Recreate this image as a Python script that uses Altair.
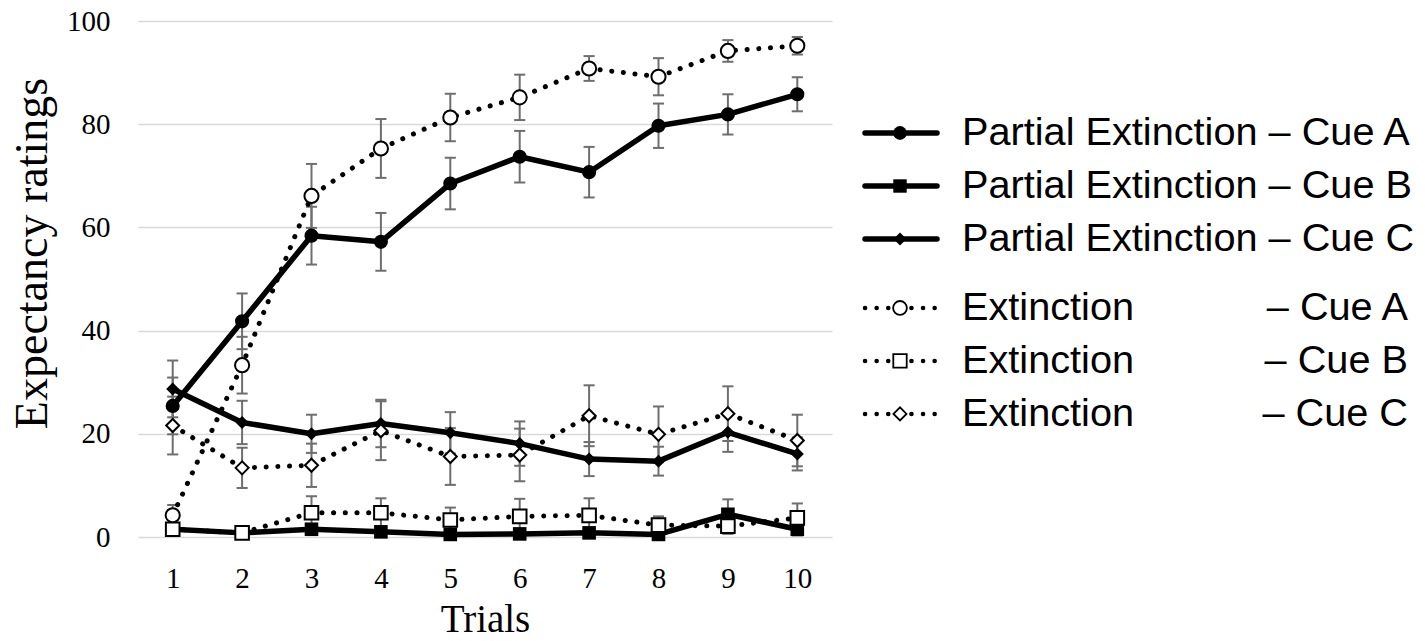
import altair as alt
import pandas as pd

# Mean expectancy ratings (and SEM) per trial for each group and cue
trials = [1, 2, 3, 4, 5, 6, 7, 8, 9, 10]

pe_a = [25.4, 41.8, 58.4, 57.2, 68.5, 73.7, 70.7, 79.7, 81.9, 85.8]
pe_a_se = [5.5, 5.4, 5.6, 5.6, 5.0, 5.0, 4.9, 4.3, 3.9, 3.3]
pe_b = [1.5, 0.8, 1.5, 1.0, 0.5, 0.6, 0.8, 0.5, 4.4, 1.5]
pe_b_se = [1.0, 0.8, 1.0, 0.8, 0.6, 0.7, 0.8, 0.6, 2.9, 1.2]
pe_c = [28.7, 22.2, 20.0, 22.0, 20.2, 18.1, 15.1, 14.7, 20.3, 16.1]
pe_c_se = [5.5, 4.2, 3.7, 4.6, 4.0, 4.3, 3.3, 2.8, 3.8, 3.2]

ex_a = [4.2, 33.3, 66.1, 75.3, 81.3, 85.2, 90.8, 89.2, 94.2, 95.2]
ex_a_se = [2.0, 5.5, 6.2, 5.7, 4.6, 4.4, 2.4, 3.6, 2.1, 1.7]
ex_b = [1.5, 0.8, 4.7, 4.7, 3.3, 4.0, 4.2, 2.3, 2.1, 3.7]
ex_b_se = [1.0, 0.8, 3.2, 2.8, 2.4, 3.4, 3.3, 1.7, 1.5, 2.8]
ex_c = [21.6, 13.4, 13.9, 20.6, 15.6, 15.9, 23.5, 19.9, 23.9, 18.7]
ex_c_se = [5.6, 3.9, 4.2, 5.7, 5.5, 5.1, 5.9, 5.4, 5.3, 5.0]

groups = ["Partial Extinction", "Extinction"]
cues = ["A", "B", "C"]
y_ticks = [0, 20, 40, 60, 80, 100]

series = [
    ("Partial Extinction", "A", pe_a, pe_a_se),
    ("Partial Extinction", "B", pe_b, pe_b_se),
    ("Partial Extinction", "C", pe_c, pe_c_se),
    ("Extinction", "A", ex_a, ex_a_se),
    ("Extinction", "B", ex_b, ex_b_se),
    ("Extinction", "C", ex_c, ex_c_se),
]

rows = []
for grp, cue, vals, errs in series:
    for t, v, e in zip(trials, vals, errs):
        rows.append({"trial": t, "group": grp, "cue": cue,
                     "series": f"{grp} – Cue {cue}",
                     "value": v, "lo": v - e, "hi": v + e})
df = pd.DataFrame(rows)

SERIF = "Liberation Serif"
SANS = "Liberation Sans"
PLOT_W, PLOT_H = 694, 516
CAP = 0.08  # half-width of error-bar caps, in trial units

x_enc = alt.X(
    "trial:Q",
    scale=alt.Scale(domain=[0.5, 10.5], nice=False, zero=False),
    axis=alt.Axis(values=trials, format="d", grid=False, domain=False, ticks=False,
                  labelFont=SERIF, labelFontSize=29, labelColor="black",
                  labelPadding=27, title="Trials", titleFont=SERIF,
                  titleFontSize=39, titleFontWeight="normal", titleColor="black",
                  titleY=82, titleBaseline="middle"),
)
y_enc = alt.Y(
    "value:Q",
    scale=alt.Scale(domain=[0, 100], nice=False),
    axis=alt.Axis(values=y_ticks, grid=True, gridColor="#d9d9d9", gridWidth=1.3,
                  domain=False, ticks=False, labelFont=SERIF, labelFontSize=29,
                  labelColor="black", labelPadding=28,
                  title="Expectancy ratings", titleFont=SERIF, titleFontSize=46,
                  titleFontWeight="normal", titleColor="black",
                  titleX=-106, titleY=232, titleAngle=270,
                  titleAlign="center", titleBaseline="middle"),
)

base = alt.Chart(df)
shape_scale = alt.Scale(domain=cues, range=["circle", "square", "diamond"])

err_color = "#6e6e6e"
err_stem = base.mark_rule(color=err_color, strokeWidth=2).encode(
    x=x_enc, y=alt.Y("lo:Q"), y2="hi:Q")
err_top = base.transform_calculate(
    xl=f"datum.trial - {CAP}", xr=f"datum.trial + {CAP}"
).mark_rule(color=err_color, strokeWidth=2).encode(
    x="xl:Q", x2="xr:Q", y="hi:Q")
err_bot = base.transform_calculate(
    xl=f"datum.trial - {CAP}", xr=f"datum.trial + {CAP}"
).mark_rule(color=err_color, strokeWidth=2).encode(
    x="xl:Q", x2="xr:Q", y="lo:Q")

partial = base.transform_filter(alt.datum.group == "Partial Extinction")
extinct = base.transform_filter(alt.datum.group == "Extinction")

partial_line = partial.mark_line(color="black", strokeWidth=5.5, strokeJoin="round").encode(
    x=x_enc, y=y_enc, detail="series:N")
extinct_line = extinct.mark_line(color="black", strokeWidth=5, strokeDash=[0.1, 11.6],
                                 strokeCap="round").encode(
    x=x_enc, y=y_enc, detail="series:N")

partial_pts = partial.mark_point(filled=True, color="black", opacity=1).encode(
    x=x_enc, y=y_enc,
    shape=alt.Shape("cue:N", scale=shape_scale, legend=None),
    size=alt.Size("cue:O", scale=alt.Scale(domain=cues, range=[200, 170, 180]), legend=None),
)
extinct_pts = extinct.mark_point(filled=True, color="white", stroke="black",
                                 strokeWidth=2, opacity=1).encode(
    x=x_enc, y=y_enc,
    shape=alt.Shape("cue:N", scale=shape_scale, legend=None),
    size=alt.Size("cue:O", scale=alt.Scale(domain=cues, range=[150, 140, 130]), legend=None),
)

plot = alt.layer(
    err_stem, err_top, err_bot, partial_line, partial_pts, extinct_line, extinct_pts
).properties(width=PLOT_W, height=PLOT_H)

# Legend panel: one row per series, sample line + marker + label
LEG_W = 565
ROW_STEP = 53
row_pos = [0, 1, 2, 3.3, 4.3, 5.3]
leg_rows = []
for (grp, cue, _, _), r in zip(series, row_pos):
    leg_rows.append({"group": grp, "cue": cue, "row": r,
                     "name": f"{grp} – Cue {cue}" if grp == "Partial Extinction" else grp,
                     "tail": "" if grp == "Partial Extinction" else f"– Cue {cue}"})
leg = pd.DataFrame(leg_rows)

seg = pd.DataFrame({"lx": [13, 85]})
leg_lines = leg.merge(seg, how="cross")

lx_scale = alt.Scale(domain=[0, LEG_W], nice=False, zero=False)
ly_top = -112 / ROW_STEP
ly_scale = alt.Scale(domain=[ly_top, ly_top + PLOT_H / ROW_STEP], nice=False, zero=False,
                     reverse=True)
lx = lambda f: alt.X(f, scale=lx_scale, axis=None)
ly = alt.Y("row:Q", scale=ly_scale, axis=None)

lbase_lines = alt.Chart(leg_lines)
lbase = alt.Chart(leg)

leg_solid = lbase_lines.transform_filter(alt.datum.group == "Partial Extinction").mark_line(
    color="black", strokeWidth=5.5, strokeCap="round").encode(
    x=lx("lx:Q"), y=ly, detail="cue:N")
leg_dotted = lbase_lines.transform_filter(alt.datum.group == "Extinction").mark_line(
    color="black", strokeWidth=4.5, strokeDash=[0.1, 11.5], strokeCap="round").encode(
    x=lx("lx:Q"), y=ly, detail="cue:N")
leg_fill = lbase.transform_filter(alt.datum.group == "Partial Extinction").transform_calculate(
    mx="48").mark_point(filled=True, color="black", opacity=1).encode(
    x=lx("mx:Q"), y=ly,
    shape=alt.Shape("cue:N", scale=shape_scale, legend=None),
    size=alt.Size("cue:O", scale=alt.Scale(domain=cues, range=[190, 170, 130]), legend=None))
leg_open = lbase.transform_filter(alt.datum.group == "Extinction").transform_calculate(
    mx="48").mark_point(filled=True, color="white", stroke="black", strokeWidth=1.8,
                        opacity=1).encode(
    x=lx("mx:Q"), y=ly,
    shape=alt.Shape("cue:N", scale=shape_scale, legend=None),
    size=alt.Size("cue:O", scale=alt.Scale(domain=cues, range=[120, 110, 100]), legend=None))
leg_name = lbase.transform_calculate(tx="110").mark_text(
    align="left", baseline="middle", font=SANS, fontSize=39.7, color="black").encode(
    x=lx("tx:Q"), y=ly, text="name:N")
leg_tail = lbase.transform_calculate(tx="556").mark_text(
    align="right", baseline="middle", font=SANS, fontSize=39.7, color="black").encode(
    x=lx("tx:Q"), y=ly, text="tail:N")

legend = alt.layer(leg_solid, leg_dotted, leg_fill, leg_open, leg_name, leg_tail).properties(
    width=LEG_W, height=PLOT_H)

chart = alt.hconcat(plot, legend, spacing=20).resolve_scale(
    x="independent", y="independent", shape="independent", size="independent"
).properties(
    padding={"left": 9, "top": 7, "right": 0, "bottom": 0}, background="white"
).configure_view(stroke=None)

chart.save("out.html", embed_options={"renderer": "svg", "actions": False})
